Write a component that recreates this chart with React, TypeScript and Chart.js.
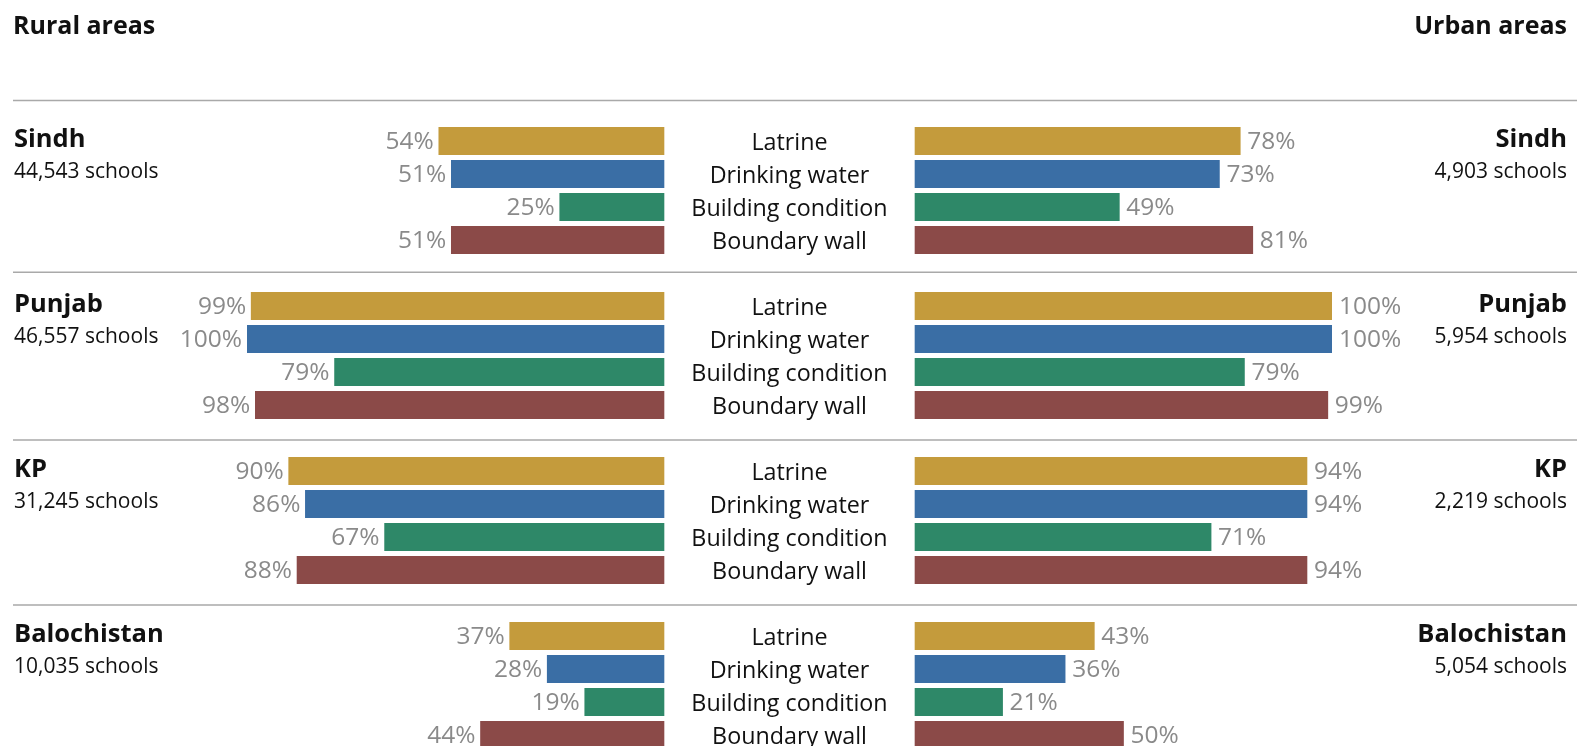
import React, { useEffect, useRef } from "react";
import { Chart, registerables } from "chart.js";

Chart.register(...registerables);

// ---------- data ----------
const PROVINCES = ["Sindh", "Punjab", "KP", "Balochistan"];
const RURAL_SCHOOLS = ["44,543 schools", "46,557 schools", "31,245 schools", "10,035 schools"];
const URBAN_SCHOOLS = ["4,903 schools", "5,954 schools", "2,219 schools", "5,054 schools"];
const FACILITIES = ["Latrine", "Drinking water", "Building condition", "Boundary wall"];
const COLORS = ["#C49B3C", "#3A6EA5", "#2E8868", "#8B4A48"];

// values per facility (Latrine, Drinking water, Building condition, Boundary wall)
const RURAL_SINDH = [54, 51, 25, 51];
const RURAL_PUNJAB = [99, 100, 79, 98];
const RURAL_KP = [90, 86, 67, 88];
const RURAL_BALOCHISTAN = [37, 28, 19, 44];

const URBAN_SINDH = [78, 73, 49, 81];
const URBAN_PUNJAB = [100, 100, 79, 99];
const URBAN_KP = [94, 94, 71, 94];
const URBAN_BALOCHISTAN = [43, 36, 21, 50];

const RURAL = [RURAL_SINDH, RURAL_PUNJAB, RURAL_KP, RURAL_BALOCHISTAN];
const URBAN = [URBAN_SINDH, URBAN_PUNJAB, URBAN_KP, URBAN_BALOCHISTAN];

// ---------- layout constants ----------
const W = 1577;
const H = 746;
const GAP = 30.1; // half of the central label gap, in value units
const SLOTS_PER_GROUP = 5; // 1 spacer + 4 bars
const SEPARATOR_ROWS = [-0.23, 4.98, 10.06, 15.06];
const FONT = '"Open Sans", "Noto Sans", sans-serif';

const rowOf = (g: number, i: number) => g * SLOTS_PER_GROUP + 1 + i;

function buildData() {
  const rural: any[] = [];
  const urban: any[] = [];
  const colors: string[] = [];
  PROVINCES.forEach((_, g) => {
    FACILITIES.forEach((__, i) => {
      rural.push({ y: rowOf(g, i), x: [-GAP, -(GAP + RURAL[g][i])] });
      urban.push({ y: rowOf(g, i), x: [GAP, GAP + URBAN[g][i]] });
      colors.push(COLORS[i]);
    });
  });
  return { rural, urban, colors };
}

const textPlugin = {
  id: "butterflyText",
  afterDatasetsDraw(chart: any) {
    const ctx = chart.ctx as CanvasRenderingContext2D;
    const xs = chart.scales.x;
    const ys = chart.scales.y;
    ctx.save();

    // headers
    ctx.fillStyle = "#111";
    ctx.font = `700 25px ${FONT}`;
    ctx.textBaseline = "alphabetic";
    ctx.textAlign = "left";
    ctx.fillText("Rural areas", 13, 34);
    ctx.textAlign = "right";
    ctx.fillText("Urban areas", W - 10, 34);

    // separators
    ctx.strokeStyle = "#a9a9a9";
    ctx.lineWidth = 1.5;
    SEPARATOR_ROWS.forEach((r) => {
      const y = ys.getPixelForValue(r);
      ctx.beginPath();
      ctx.moveTo(13, y);
      ctx.lineTo(W, y);
      ctx.stroke();
    });

    const cx = xs.getPixelForValue(0);

    PROVINCES.forEach((name, g) => {
      const y1 = ys.getPixelForValue(rowOf(g, 0));
      const y2 = ys.getPixelForValue(rowOf(g, 1));

      // province names
      ctx.fillStyle = "#111";
      ctx.textBaseline = "alphabetic";
      ctx.font = `700 25.5px ${FONT}`;
      ctx.textAlign = "left";
      ctx.fillText(name, 14, y1 + 5.5);
      ctx.textAlign = "right";
      ctx.fillText(name, W - 10, y1 + 5.5);
      ctx.font = `400 21px ${FONT}`;
      ctx.textAlign = "left";
      ctx.fillText(RURAL_SCHOOLS[g], 14, y2 + 4);
      ctx.textAlign = "right";
      ctx.fillText(URBAN_SCHOOLS[g], W - 10, y2 + 4);

      FACILITIES.forEach((fac, i) => {
        const y = ys.getPixelForValue(rowOf(g, i));
        // center labels
        ctx.fillStyle = "#111";
        ctx.font = `400 23.3px ${FONT}`;
        ctx.textAlign = "center";
        ctx.textBaseline = "middle";
        ctx.fillText(fac, cx, y + 2);

        // value labels
        ctx.fillStyle = "#8a8a8a";
        ctx.font = `400 24.5px ${FONT}`;
        const rv = RURAL[g][i];
        const uv = URBAN[g][i];
        ctx.textAlign = "right";
        ctx.fillText(`${rv}%`, xs.getPixelForValue(-(GAP + rv)) - 5, y + 1.5);
        ctx.textAlign = "left";
        ctx.fillText(`${uv}%`, xs.getPixelForValue(GAP + uv) + 7, y + 1.5);
      });
    });

    ctx.restore();
  },
};

export default function App() {
  const canvasRef = useRef<HTMLCanvasElement | null>(null);

  useEffect(() => {
    document.body.style.margin = "0";
    const canvas = canvasRef.current;
    if (!canvas) return;
    const { rural, urban, colors } = buildData();

    const chart = new Chart(canvas, {
      type: "bar",
      data: {
        datasets: [
          {
            label: "Rural",
            data: rural,
            backgroundColor: colors,
            borderWidth: 0,
            barThickness: 27.5,
            grouped: false,
          } as any,
          {
            label: "Urban",
            data: urban,
            backgroundColor: colors,
            borderWidth: 0,
            barThickness: 27.5,
            grouped: false,
          } as any,
        ],
      },
      options: {
        indexAxis: "y",
        responsive: false,
        animation: false,
        devicePixelRatio: 1,
        layout: { autoPadding: false, padding: { left: 247, right: W - 1332, top: 91.5, bottom: 0 } },
        plugins: {
          legend: { display: false },
          tooltip: { enabled: false },
          title: { display: false },
        },
        scales: {
          x: {
            type: "linear",
            min: -(100 + GAP),
            max: 100 + GAP,
            offset: false,
            display: false,
          },
          y: {
            type: "linear",
            min: -0.5,
            max: 19.333,
            reverse: true,
            offset: false,
            grid: { offset: false },
            display: false,
          },
        },
      } as any,
      plugins: [textPlugin],
    });

    const fonts = (document as any).fonts;
    if (fonts && fonts.load) {
      Promise.all([
        fonts.load(`700 25px "Open Sans"`),
        fonts.load(`400 22px "Open Sans"`),
      ]).then(() => chart.draw());
    }

    return () => chart.destroy();
  }, []);

  return (
    <div style={{ width: W, height: H, background: "#fff" }}>
      <canvas ref={canvasRef} width={W} height={H} style={{ display: "block" }} />
    </div>
  );
}
